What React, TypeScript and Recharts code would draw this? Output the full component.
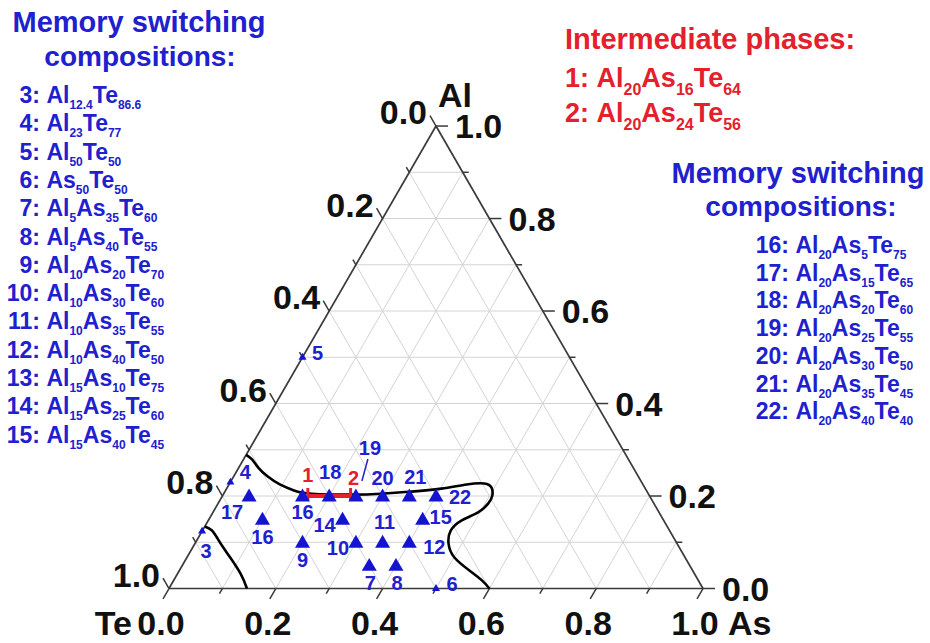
import React from 'react';
import { ComposedChart, XAxis, YAxis, Scatter, Line, ReferenceLine } from 'recharts';

// ---------------- data ----------------
const tickValues = [0, 0.2, 0.4, 0.6, 0.8, 1.0];
const minorTickValues = [0.1, 0.3, 0.5, 0.7, 0.9];
const gridValues = [0.1, 0.2, 0.3, 0.4, 0.5, 0.6, 0.7, 0.8, 0.9];
const cornerNames = ['Al', 'Te', 'As'];

// switching compositions (at.%)
const pointIds = ['3', '4', '5', '6', '7', '8', '9', '10', '11', '12', '13', '14', '15', '16', '17', '18', '19', '20', '21', '22'];
const pointShownLabels = ['3', '4', '5', '6', '7', '8', '9', '10', '11', '12', '16', '14', '15', '17', '16', '18', '19', '20', '21', '22'];
const pointAl = [12.4, 23, 50, 0, 5, 5, 10, 10, 10, 10, 15, 15, 15, 20, 20, 20, 20, 20, 20, 20];
const pointAs = [0, 0, 0, 50, 35, 40, 20, 30, 35, 40, 10, 25, 40, 5, 15, 20, 25, 30, 35, 40];
const smallPointIds = ['3', '4', '5', '6'];

// intermediate phases
const phaseIds = ['1', '2'];
const phaseAl = [20, 20];
const phaseAs = [16, 24];

// glass-forming region boundaries (at.%)
const boundaryLeftAl = [13.4, 12.6, 10.8, 8.8, 6.8, 3.2, 0];
const boundaryLeftAs = [0, 1.7, 3.7, 5.8, 8.0, 11.8, 14.6];
const boundaryMainAl = [28.9, 27.9, 26.1, 24.2, 22.5, 21.2, 20.5, 20.3, 20.5, 20.95, 21.6, 22.5, 22.7, 21.8, 20.1, 18.4, 16.4, 14.7, 12.5, 9.7, 6.7, 3.9, 1.7, 0];
const boundaryMainAs = [0, 1.6, 3.7, 6.4, 9.5, 12.8, 16.5, 24.1, 29.5, 34.9, 40.2, 44.5, 47.7, 49.5, 50.5, 50.6, 49.6, 47.4, 46.5, 47.5, 50.1, 54.3, 57.8, 60];

// legend texts
const leftListIds = ['3', '4', '5', '6', '7', '8', '9', '10', '11', '12', '13', '14', '15'];
const leftListFormulas: [string, string][][] = [
  [['Al', '12.4'], ['Te', '86.6']],
  [['Al', '23'], ['Te', '77']],
  [['Al', '50'], ['Te', '50']],
  [['As', '50'], ['Te', '50']],
  [['Al', '5'], ['As', '35'], ['Te', '60']],
  [['Al', '5'], ['As', '40'], ['Te', '55']],
  [['Al', '10'], ['As', '20'], ['Te', '70']],
  [['Al', '10'], ['As', '30'], ['Te', '60']],
  [['Al', '10'], ['As', '35'], ['Te', '55']],
  [['Al', '10'], ['As', '40'], ['Te', '50']],
  [['Al', '15'], ['As', '10'], ['Te', '75']],
  [['Al', '15'], ['As', '25'], ['Te', '60']],
  [['Al', '15'], ['As', '40'], ['Te', '45']],
];
const rightListIds = ['16', '17', '18', '19', '20', '21', '22'];
const rightListFormulas: [string, string][][] = [
  [['Al', '20'], ['As', '5'], ['Te', '75']],
  [['Al', '20'], ['As', '15'], ['Te', '65']],
  [['Al', '20'], ['As', '20'], ['Te', '60']],
  [['Al', '20'], ['As', '25'], ['Te', '55']],
  [['Al', '20'], ['As', '30'], ['Te', '50']],
  [['Al', '20'], ['As', '35'], ['Te', '45']],
  [['Al', '20'], ['As', '40'], ['Te', '40']],
];
const phaseFormulas: [string, string][][] = [
  [['Al', '20'], ['As', '16'], ['Te', '64']],
  [['Al', '20'], ['As', '24'], ['Te', '56']],
];
const switchingTitle = ['Memory switching', 'compositions:'];
const phaseTitle = 'Intermediate phases:';

// ---------------- layout ----------------
const CHART_W = 930;
const CHART_H = 643;
const TE_X = 169;
const BASE_Y = 588.5;
const SIDE = 534;
const X_DOMAIN: [number, number] = [-TE_X / SIDE, (CHART_W - TE_X) / SIDE];
const Y_DOMAIN: [number, number] = [-(CHART_H - BASE_Y) / SIDE, BASE_Y / SIDE];
const H3 = Math.sqrt(3) / 2;
const FONT = "'Liberation Sans', Arial, Helvetica, sans-serif";
const BLUE = '#2020cf';
const MARKER_BLUE = '#1414d0';
const RED = '#e3202b';
const GRID = '#d4d4d4';
const EDGE = '#3a3a3a';

const tern = (al: number, as: number) => ({ x: as + al / 2, y: al * H3 });
const pxu = (d: number) => d / SIDE;

const labelOffset: Record<string, [number, number]> = {
  '3': [4, 20], '4': [15, -10], '5': [15, -4], '6': [16, -5],
  '7': [1, 17], '8': [1, 17], '9': [0, 18], '10': [-18, 6], '11': [2, -20], '12': [25, 5],
  '13': [0, 18], '14': [-18, 6], '15': [18, -2], '16': [-17, 16], '17': [0, 16],
  '18': [1, -24], '19': [14, -48], '20': [0, -18], '21': [6, -19], '22': [24, 1],
  '1': [0, -21], '2': [3, -18],
};

// ---------------- derived data ----------------
const pointData = pointIds.map((id, i) => ({
  ...tern(pointAl[i] / 100, pointAs[i] / 100),
  id,
  label: pointShownLabels[i],
  small: smallPointIds.includes(id),
}));
const phaseData = phaseIds.map((id, i) => ({ ...tern(phaseAl[i] / 100, phaseAs[i] / 100), id, label: id }));
const boundaryLeft = boundaryLeftAl.map((al, i) => tern(al / 100, boundaryLeftAs[i] / 100));
const boundaryMain = boundaryMainAl.map((al, i) => tern(al / 100, boundaryMainAs[i] / 100));

type Seg = [{ x: number; y: number }, { x: number; y: number }];
const gridSegments: Seg[] = [];
gridValues.forEach((v) => {
  gridSegments.push([tern(v, 0), tern(v, 1 - v)]);
  gridSegments.push([tern(0, v), tern(1 - v, v)]);
  gridSegments.push([tern(0, 1 - v), tern(1 - v, 0)]);
});
const edgeSegments: Seg[] = [
  [tern(0, 0), tern(0, 1)],
  [tern(0, 1), tern(1, 0)],
  [tern(1, 0), tern(0, 0)],
];
const tickSeg = (p: { x: number; y: number }, dx: number, dy: number, len: number): Seg => [
  p,
  { x: p.x + pxu(dx * len), y: p.y + pxu(dy * len) },
];
const tickSegments: Seg[] = [];
const addTicks = (vals: number[], len: number) => {
  vals.forEach((v) => {
    tickSegments.push(tickSeg(tern(v, 1 - v), 1, 0, len)); // right: Al
    tickSegments.push(tickSeg(tern(0, v), -0.5, -H3, len)); // bottom: As
    tickSegments.push(tickSeg(tern(1 - v, 0), -0.5, H3, len)); // left: Te
  });
};
addTicks(tickValues, 12);
addTicks(minorTickValues, 6);

const tickLabelData = [
  ...tickValues.map((v) => ({ ...tern(v, 1 - v), label: v.toFixed(1), side: 'right' })),
  ...tickValues.map((v) => ({ ...tern(0, v), label: v.toFixed(1), side: 'bottom' })),
  ...tickValues.map((v) => ({ ...tern(1 - v, 0), label: v.toFixed(1), side: 'left' })),
];
const cornerData = [
  { ...tern(1, 0), label: cornerNames[0], side: 'top' },
  { ...tern(0, 0), label: cornerNames[1], side: 'bl' },
  { ...tern(0, 1), label: cornerNames[2], side: 'br' },
];

// ---------------- shapes ----------------
const TICK_FS = 34;
const tickLabelShape = (props: any) => {
  const { cx, cy, payload } = props;
  const base = TICK_FS * 0.36;
  if (payload.side === 'right')
    return <text x={cx + 19} y={cy + base} fontSize={TICK_FS} fontWeight="bold" fontFamily={FONT} fill="#111" textAnchor="start">{payload.label}</text>;
  if (payload.side === 'bottom')
    return <text x={cx - 8} y={cy + 34 + base} fontSize={TICK_FS} fontWeight="bold" fontFamily={FONT} fill="#111" textAnchor="middle">{payload.label}</text>;
  return <text x={cx - 9} y={cy - 14 + base} fontSize={TICK_FS} fontWeight="bold" fontFamily={FONT} fill="#111" textAnchor="end">{payload.label}</text>;
};
const cornerShape = (props: any) => {
  const { cx, cy, payload } = props;
  const base = TICK_FS * 0.36;
  const off: Record<string, [number, number, string]> = {
    top: [2, -31, 'start'],
    bl: [-37, 34, 'end'],
    br: [25, 34, 'start'],
  };
  const [dx, dy, anchor] = off[payload.side];
  return <text x={cx + dx} y={cy + dy + base} fontSize={TICK_FS} fontWeight="bold" fontFamily={FONT} fill="#111" textAnchor={anchor as any}>{payload.label}</text>;
};
const markerShape = (props: any) => {
  const { cx, cy, payload } = props;
  const s = payload.small ? 8 : 15;
  const h = s * H3;
  const top = cy - h / 2 - 1;
  const pts = `${cx},${top} ${cx - s / 2},${top + h} ${cx + s / 2},${top + h}`;
  return <polygon points={pts} fill={MARKER_BLUE} />;
};
const LABEL_FS = 20;
const pointLabelShape = (color: string) => (props: any) => {
  const { cx, cy, payload } = props;
  const [dx, dy] = labelOffset[payload.id] || [0, 0];
  return (
    <g>
      {payload.id === '19' && (
        <line x1={cx + 12} y1={cy - 37} x2={cx + 6} y2={cy - 15} stroke={color} strokeWidth={1.5} />
      )}
      <text x={cx + dx} y={cy + dy + LABEL_FS * 0.36} fontSize={LABEL_FS} fontWeight="bold" fontFamily={FONT} fill={color} textAnchor="middle">
        {payload.label}
      </text>
    </g>
  );
};
const phaseEndShape = (props: any) => {
  const { cx, cy } = props;
  return <line x1={cx} y1={cy - 8} x2={cx} y2={cy + 4} stroke={RED} strokeWidth={3} />;
};

// ---------------- text blocks ----------------
function formulaSpans(parts: [string, string][], sub: number, shift: number) {
  const out: React.ReactNode[] = [];
  parts.forEach(([el, n], k) => {
    out.push(<tspan key={'e' + k} dy={k === 0 ? 0 : -shift}>{el}</tspan>);
    out.push(<tspan key={'n' + k} fontSize={sub} dy={shift}>{n}</tspan>);
  });
  return out;
}

function ListRow({ xColon, y, id, parts, color, size, sub, shift }: any) {
  return (
    <g>
      <text x={xColon} y={y} fontSize={size} fontWeight="bold" fontFamily={FONT} fill={color} textAnchor="end">{id + ':'}</text>
      <text x={xColon + size * 0.28} y={y} fontSize={size} fontWeight="bold" fontFamily={FONT} fill={color}>
        {formulaSpans(parts, sub, shift)}
      </text>
    </g>
  );
}

function TextOverlay() {
  const tStyle = { fontWeight: 'bold' as const, fontFamily: FONT };
  return (
    <svg width={CHART_W} height={CHART_H} style={{ position: 'absolute', left: 0, top: 0, pointerEvents: 'none' }}>
      {/* left block */}
      <text x={139} y={32} fontSize={29} fill={BLUE} textAnchor="middle" {...tStyle}>{switchingTitle[0]}</text>
      <text x={140} y={66} fontSize={28} fill={BLUE} textAnchor="middle" {...tStyle}>{switchingTitle[1]}</text>
      {leftListIds.map((id, i) => (
        <ListRow key={id} xColon={40} y={103 + i * 28.3} id={id} parts={leftListFormulas[i]} color={BLUE} size={23} sub={12} shift={6} />
      ))}
      {/* right block */}
      <text x={798} y={183} fontSize={29} fill={BLUE} textAnchor="middle" {...tStyle}>{switchingTitle[0]}</text>
      <text x={801} y={216} fontSize={28} fill={BLUE} textAnchor="middle" {...tStyle}>{switchingTitle[1]}</text>
      {rightListIds.map((id, i) => (
        <ListRow key={id} xColon={789} y={253 + i * 27.7} id={id} parts={rightListFormulas[i]} color={BLUE} size={23} sub={12} shift={6} />
      ))}
      {/* intermediate phases */}
      <text x={565} y={49} fontSize={29} fill={RED} {...tStyle}>{phaseTitle}</text>
      {phaseIds.map((id, i) => (
        <ListRow key={id} xColon={565 + 27 * 0.889} y={87 + i * 35} id={id} parts={phaseFormulas[i]} color={RED} size={27} sub={16} shift={8} />
      ))}
    </svg>
  );
}

// ---------------- chart ----------------
export default function App() {
  return (
    <div style={{ position: 'absolute', left: 0, top: 0, width: CHART_W, height: CHART_H, background: '#fff' }}>
      <ComposedChart width={CHART_W} height={CHART_H} margin={{ top: 0, right: 0, bottom: 0, left: 0 }}>
        <XAxis type="number" dataKey="x" domain={X_DOMAIN} allowDataOverflow hide />
        <YAxis type="number" dataKey="y" domain={Y_DOMAIN} allowDataOverflow hide />
        {gridSegments.map((s, i) => (
          <ReferenceLine key={'g' + i} segment={s} stroke={GRID} strokeWidth={1} ifOverflow="visible" />
        ))}
        {edgeSegments.map((s, i) => (
          <ReferenceLine key={'e' + i} segment={s} stroke={EDGE} strokeWidth={1.7} ifOverflow="visible" />
        ))}
        {tickSegments.map((s, i) => (
          <ReferenceLine key={'t' + i} segment={s} stroke={EDGE} strokeWidth={1.5} ifOverflow="visible" />
        ))}
        <Line data={boundaryLeft} dataKey="y" type="natural" stroke="#000" strokeWidth={2.6} dot={false} isAnimationActive={false} />
        <Line data={boundaryMain} dataKey="y" type="natural" stroke="#000" strokeWidth={2.6} dot={false} isAnimationActive={false} />
        <Line data={phaseData} dataKey="y" type="linear" stroke={RED} strokeWidth={4} dot={false} isAnimationActive={false} />
        <Scatter data={phaseData} dataKey="y" shape={phaseEndShape} isAnimationActive={false} />
        <Scatter data={pointData} dataKey="y" shape={markerShape} isAnimationActive={false} />
        <Scatter data={pointData} dataKey="y" shape={pointLabelShape(BLUE)} isAnimationActive={false} />
        <Scatter data={phaseData} dataKey="y" shape={pointLabelShape(RED)} isAnimationActive={false} />
        <Scatter data={tickLabelData} dataKey="y" shape={tickLabelShape} isAnimationActive={false} />
        <Scatter data={cornerData} dataKey="y" shape={cornerShape} isAnimationActive={false} />
      </ComposedChart>
      <TextOverlay />
    </div>
  );
}
